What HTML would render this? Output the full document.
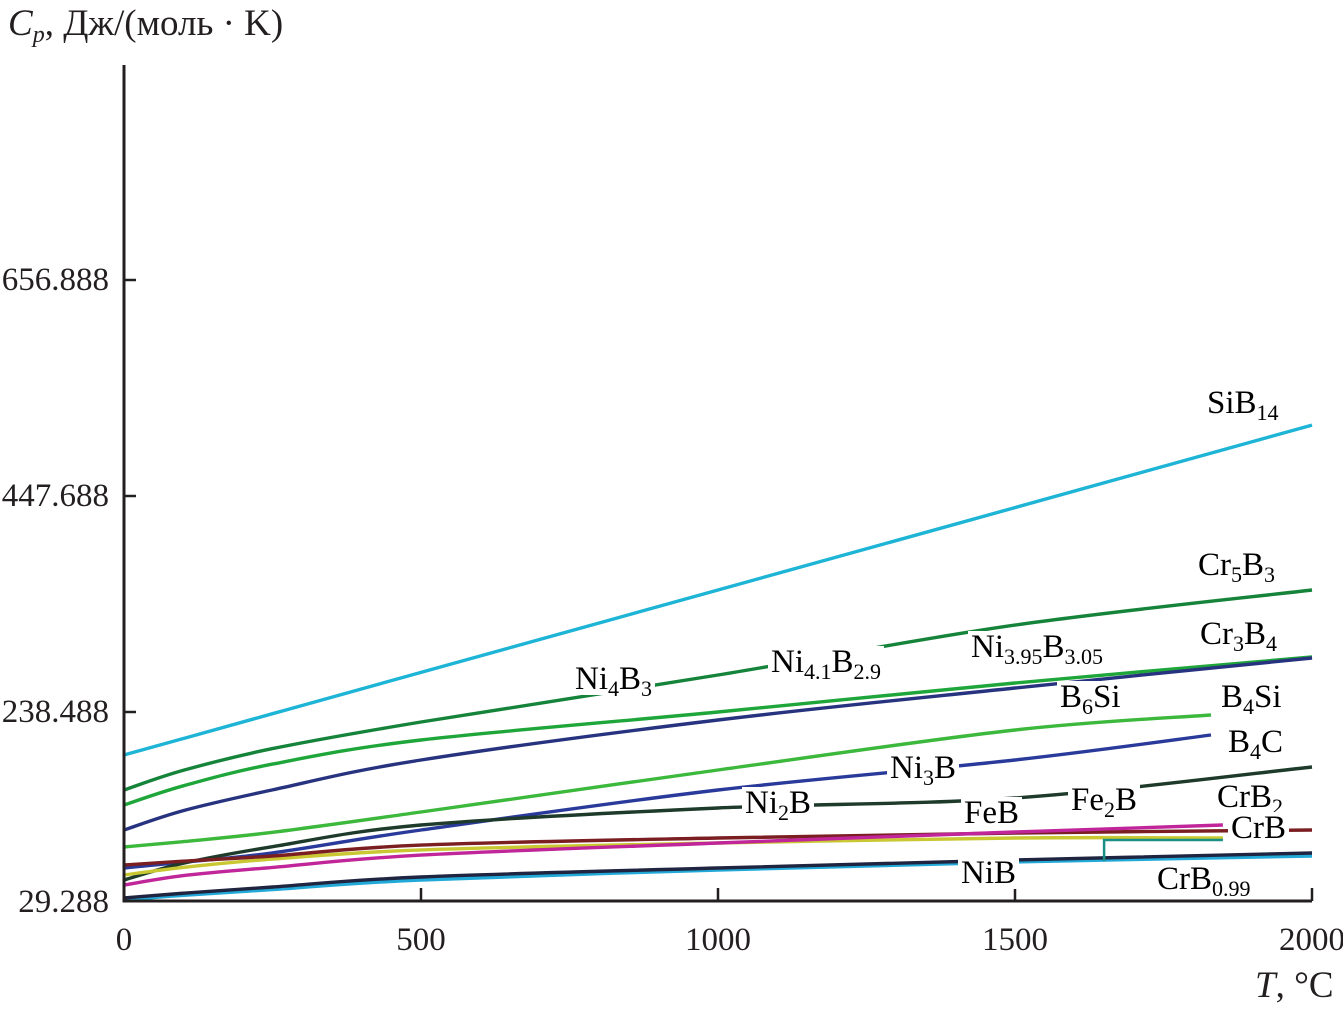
<!DOCTYPE html>
<html><head><meta charset="utf-8">
<style>
html,body{margin:0;padding:0;background:#fff;}
#wrap{position:relative;width:1343px;height:1010px;overflow:hidden;font-family:"Liberation Serif",serif;color:#231f20;}
svg{position:absolute;left:0;top:0;}
.lbl{position:absolute;font-size:33px;line-height:32px;background:#fff;padding:0 3px;white-space:nowrap;transform:translateY(-50%);}
.lbl sub{font-size:22px;vertical-align:-7px;line-height:0;}
.tk{position:absolute;font-size:33px;line-height:30px;white-space:nowrap;}
</style></head><body>
<div id="wrap">
<svg id="plot" width="1343" height="1010"></svg>
<div class="tk" style="left:8px;top:6px;font-size:37px;line-height:36px;"><i>C<sub style="font-size:24px;vertical-align:-7px;">p</sub></i>, Дж/(моль · K)</div>
<div class="tk" style="left:1255px;top:968px;font-size:37px;line-height:36px;"><i>T</i>, °C</div>
</div>
<script>
const years = [0,100,250,500,1000,1500,2000];
const tShort = [0,100,250,500,1000,1500,1830];
const tMid = [0,100,250,500,1000,1500,1850];
const sib14 = [196.8,212.8,236.8,276.8,356.6,436.5,516.4];
const cr5b3 = [162.9,182,203,228.8,274.3,322.7,356.6];
const cr3b4 = [148.4,167,188,211.4,238.5,266.6,291.8];
const b6si = [124.2,143,163,192,230.7,261.7,290.8];
const b4si = [107.7,113,122,141.6,182.3,221.1,235.6];
const b4c = [87.4,93,102,124.2,162.9,192,216.2];
const ni2b = [75.8,92,108,129,145.5,155.2,185.2];
const feb = [90.3,94,99,109.6,116.5,121.3,124.2];
const crb = [70.9,80,88,99.9,111.6,122.3,129];
const crb2 = [80.6,88,96,104.9,111.6,116.5,116.5];
const nib = [58.4,63,69,78.7,87.4,95.1,101.9];
const crb099 = [56.4,61,66.5,75.8,85.5,93.2,99];
const stepT = [1650,1650,1850];
const stepV = [94,114.5,114.5];
const yTicks = [238.488,447.688,656.888];
const yTickLabels = ["238.488","447.688","656.888"];
const xTicks = [0,500,1000,1500,2000];

const X0=124, X1=1312, YB=901;
const xS = t => X0 + t*(X1-X0)/2000;
const yS = v => 712 - (v-238.488)*216/209.2;
const NS="http://www.w3.org/2000/svg";
const svg=document.getElementById('plot');
const wrap=document.getElementById('wrap');
function mk(tag,attrs){const e=document.createElementNS(NS,tag);for(const k in attrs)e.setAttribute(k,attrs[k]);svg.appendChild(e);return e;}
function smooth(pts){
 let d='M'+pts[0][0].toFixed(1)+','+pts[0][1].toFixed(1);
 for(let i=0;i<pts.length-1;i++){
  const p0=pts[Math.max(0,i-1)],p1=pts[i],p2=pts[i+1],p3=pts[Math.min(pts.length-1,i+2)];
  const c1=[p1[0]+(p2[0]-p0[0])/6,p1[1]+(p2[1]-p0[1])/6];
  const c2=[p2[0]-(p3[0]-p1[0])/6,p2[1]-(p3[1]-p1[1])/6];
  d+=` C${c1[0].toFixed(1)},${c1[1].toFixed(1)} ${c2[0].toFixed(1)},${c2[1].toFixed(1)} ${p2[0].toFixed(1)},${p2[1].toFixed(1)}`;
 }
 return d;
}
const series=[
 ['sib14',years,sib14,'#1db4d6'],
 ['cr5b3',years,cr5b3,'#15843a'],
 ['cr3b4',years,cr3b4,'#1fa63a'],
 ['b6si',years,b6si,'#27337f'],
 ['b4si',tShort,b4si,'#3cb83c'],
 ['b4c',tShort,b4c,'#2a3a9a'],
 ['ni2b',years,ni2b,'#1d3a2a'],
 ['crb2',tMid,crb2,'#c9c832'],
 ['feb',years,feb,'#7a1e22'],
 ['crb',tMid,crb,'#c0259a'],
 ['crb099',years,crb099,'#22a9d8'],
 ['nib',years,nib,'#1f2540'],
];
series.forEach(s=>{
 const pts=s[1].map((t,i)=>[xS(t),yS(s[2][i])]);
 const p=mk('path',{d:smooth(pts),fill:'none',stroke:s[3],'stroke-width':3.4,'stroke-linejoin':'round'});
 
 
});
{
 const d=stepT.map((t,i)=>(i?'L':'M')+xS(t).toFixed(1)+','+yS(stepV[i]).toFixed(1)).join(' ');
 const p=mk('path',{d:d,fill:'none',stroke:'#1a8f86','stroke-width':2.5});
 
 
}
const ax=mk('path',{d:`M${X0},65 L${X0},${YB} L${X1},${YB}`,fill:'none',stroke:'#231f20','stroke-width':3});


yTicks.forEach((v,i)=>{
 const l=mk('line',{x1:X0,x2:X0+12,y1:yS(v),y2:yS(v),stroke:'#231f20','stroke-width':2.5});
 
 
 const t=document.createElement('div');t.className='tk';
 
 
 t.textContent=yTickLabels[i];t.style.right=(1343-109)+'px';t.style.top=(yS(v)-15)+'px';wrap.appendChild(t);
});
{const t=document.createElement('div');t.className='tk';
 
 
 t.textContent='29.288';t.style.right=(1343-109)+'px';t.style.top='887px';wrap.appendChild(t);}
xTicks.forEach(v=>{
 if(v>0){const l=mk('line',{x1:xS(v),x2:xS(v),y1:YB,y2:YB-13,stroke:'#231f20','stroke-width':2.5});
 
 }
 const t=document.createElement('div');t.className='tk';
 
 
 t.textContent=v;t.style.left=xS(v)+'px';t.style.top='925px';t.style.transform='translateX(-50%)';wrap.appendChild(t);
});
</script>
<div class="lbl" style="left:1204px;top:403px;">SiB<sub>14</sub></div>
<div class="lbl" style="left:1195px;top:565px;">Cr<sub>5</sub>B<sub>3</sub></div>
<div class="lbl" style="left:1197px;top:634px;">Cr<sub>3</sub>B<sub>4</sub></div>
<div class="lbl" style="left:572px;top:679px;">Ni<sub>4</sub>B<sub>3</sub></div>
<div class="lbl" style="left:768px;top:662px;">Ni<sub>4.1</sub>B<sub>2.9</sub></div>
<div class="lbl" style="left:968px;top:647px;">Ni<sub>3.95</sub>B<sub>3.05</sub></div>
<div class="lbl" style="left:1057px;top:697px;">B<sub>6</sub>Si</div>
<div class="lbl" style="left:1218px;top:697px;">B<sub>4</sub>Si</div>
<div class="lbl" style="left:1225px;top:742px;">B<sub>4</sub>C</div>
<div class="lbl" style="left:887px;top:768px;">Ni<sub>3</sub>B</div>
<div class="lbl" style="left:742px;top:803px;">Ni<sub>2</sub>B</div>
<div class="lbl" style="left:961px;top:813px;">FeB</div>
<div class="lbl" style="left:1068px;top:800px;">Fe<sub>2</sub>B</div>
<div class="lbl" style="left:1214px;top:797px;">CrB<sub>2</sub></div>
<div class="lbl" style="left:1228px;top:828px;">CrB</div>
<div class="lbl" style="left:958px;top:873px;">NiB</div>
<div class="lbl" style="left:1154px;top:879px;">CrB<sub>0.99</sub></div>
</body></html>
